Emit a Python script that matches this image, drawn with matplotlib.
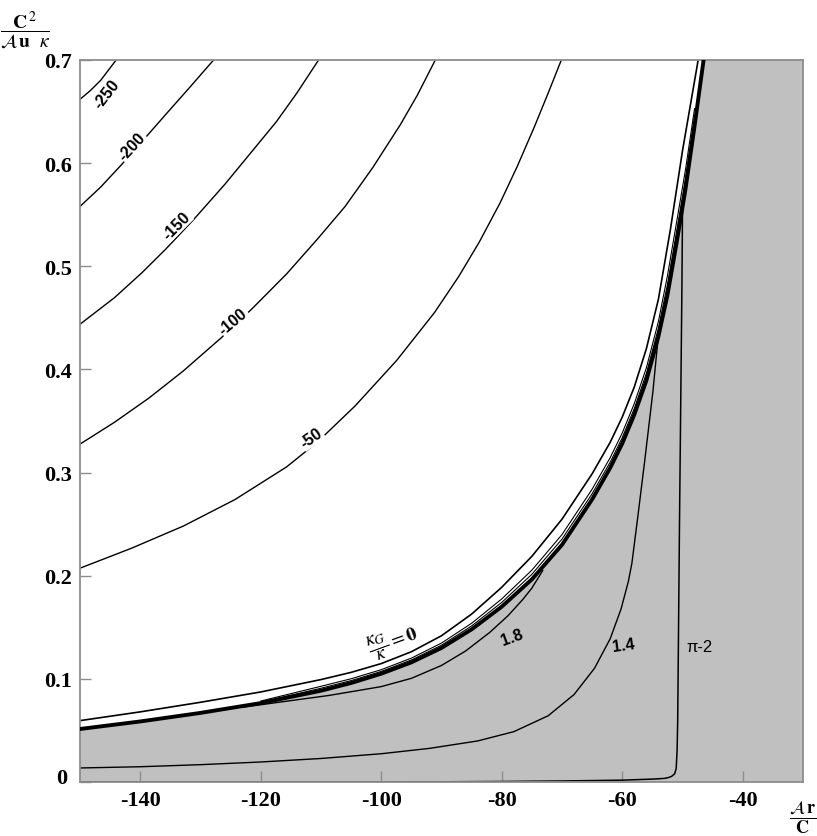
import matplotlib
matplotlib.use("Agg")
import matplotlib.pyplot as plt
from matplotlib.transforms import ScaledTranslation

plt.rcParams["axes.unicode_minus"] = False
plt.rcParams["mathtext.fontset"] = "stix"

XMIN, XMAX = -150, -30
YMIN, YMAX = 0.0, 0.7
GRAY = "#c0c0c0"
AXIS_GRAY = "#8c8c8c"

x_ticks = [-140, -120, -100, -80, -60, -40]
x_tick_labels = ["-140", "-120", "-100", "-80", "-60", "-40"]
y_ticks = [0, 0.1, 0.2, 0.3, 0.4, 0.5, 0.6, 0.7]
y_tick_labels = ["0", "0.1", "0.2", "0.3", "0.4", "0.5", "0.6", "0.7"]

# labelled contours in the white region
c250_x = [-150, -148.29, -146.57, -144.0]
c250_y = [0.6619, 0.6703, 0.6803, 0.7]
c200_x = [-150, -146.57, -143.14, -139.43, -135.71, -131.71, -127.83]
c200_y = [0.558, 0.5768, 0.5983, 0.6228, 0.6476, 0.6740, 0.7]
c150_x = [-150, -144.29, -139.71, -135.71, -131.14, -126.0, -121.43, -117.43, -114.0, -110.4]
c150_y = [0.4438, 0.4695, 0.4938, 0.517, 0.5453, 0.5792, 0.6116, 0.640, 0.668, 0.7]
c100_x = [-150, -144.29, -138.57, -132.86, -126.57, -121.43, -115.71, -110.57, -106.0,
          -101.43, -96.86, -94.0, -91.03]
c100_y = [0.3276, 0.3487, 0.3722, 0.3985, 0.4306, 0.4589, 0.4926, 0.5265, 0.558,
          0.5955, 0.637, 0.666, 0.7]
c50_x = [-150, -141.43, -132.86, -124.29, -115.71, -110.57, -104.29, -97.43, -91.14,
         -87.14, -83.71, -80.29, -77.43, -74.57, -72.29, -70.11]
c50_y = [0.2073, 0.2267, 0.2481, 0.2738, 0.3055, 0.3297, 0.3649, 0.4088, 0.4553,
         0.4901, 0.5237, 0.5613, 0.5968, 0.6354, 0.668, 0.7]

contour_labels = ["-250", "-200", "-150", "-100", "-50"]
contour_label_x = [-145.5, -141.4, -134.0, -124.6, -111.6]
contour_label_y = [0.6676, 0.6168, 0.540, 0.4472, 0.3336]
contour_label_rot = [52, 47, 45, 40, 35]

# outer thin line (kappa_G / kappa = 0)
outer_x = [-150, -140, -130, -120, -110, -105, -100, -95, -90, -85, -80, -75, -70,
           -65, -62, -60, -58, -56, -54, -52, -50, -47.4]
outer_y = [0.0595, 0.068, 0.0773, 0.0873, 0.0993, 0.1063, 0.1148, 0.1263, 0.1418,
           0.1628, 0.1888, 0.2188, 0.2548, 0.2988, 0.3294, 0.3538, 0.383, 0.420,
           0.468, 0.536, 0.612, 0.7]

# thick boundary of the grey region
thick_x = [-150, -140, -130, -120, -110, -105, -100, -95, -90, -85, -80, -75, -70,
           -65, -62, -60, -58, -56, -54, -52.5, -51, -49.5, -48, -46.5]
thick_y = [0.0514, 0.0587, 0.067, 0.0765, 0.0885, 0.096, 0.105, 0.116, 0.130,
           0.148, 0.170, 0.1965, 0.230, 0.274, 0.3046, 0.3282, 0.3562, 0.3892,
           0.432, 0.472, 0.522, 0.575, 0.636, 0.7]

# thin lines hugging the boundary
bundle_x = [-120, -110, -105, -100, -95, -90, -85, -80, -75, -70, -65, -62, -60,
            -58, -56, -54, -52.5, -51, -49.5, -48]
bundle1_y = [0.0775, 0.0909, 0.0983, 0.1072, 0.1183, 0.1326, 0.1513, 0.1741, 0.2014,
             0.2355, 0.2795, 0.3101, 0.3338, 0.3621, 0.396, 0.4399, 0.4823, 0.533,
             0.5853, 0.6452]
bundle2_y = [0.0785, 0.0928, 0.1001, 0.1089, 0.1201, 0.1347, 0.1539, 0.1775, 0.2054,
             0.2399, 0.2839, 0.3145, 0.3384, 0.3669, 0.4015, 0.4464, 0.4908, 0.542,
             0.5938, 0.6528]

# curves inside the grey region
c18_x = [-123, -118, -113, -108.8, -103.5, -100, -95, -90, -86, -82, -79, -76.5, -75, -73.2]
c18_y = [0.0725, 0.0765, 0.0805, 0.0838, 0.089, 0.0925, 0.1005, 0.113, 0.127, 0.145,
         0.161, 0.177, 0.188, 0.205]
c14_x = [-150, -140, -130, -120, -110, -100, -92, -84, -78, -72.3, -68, -64.6, -62,
         -60.2, -59, -58.4, -57.4, -56.3, -54.9, -53.9]
c14_y = [0.0136, 0.0148, 0.0168, 0.0194, 0.0228, 0.0274, 0.0326, 0.0398, 0.0488,
         0.0642, 0.0848, 0.1103, 0.1389, 0.1677, 0.1941, 0.2121, 0.258, 0.310, 0.379, 0.4397]
cpi_x = [-150, -120, -100, -90, -80, -70, -60, -55, -53, -52.4, -51.8, -51.3, -51.05,
         -50.9, -50.8, -50.5, -50.1, -50.0]
cpi_y = [0.0, 0.0, 0.0, 0.0002, 0.0005, 0.001, 0.0018, 0.0028, 0.0035, 0.0042, 0.0055,
         0.008, 0.013, 0.03, 0.058, 0.25, 0.478, 0.555]

fig = plt.figure(figsize=(8.17, 8.37), dpi=100)
ax = fig.add_axes([80 / 817, 54 / 837, 723 / 817, 722 / 837])

ax.fill(thick_x + [XMAX, XMAX, XMIN], thick_y + [YMAX, YMIN, YMIN],
        color=GRAY, lw=0, zorder=0)

for cx, cy in [(c250_x, c250_y), (c200_x, c200_y), (c150_x, c150_y),
               (c100_x, c100_y), (c50_x, c50_y)]:
    ax.plot(cx, cy, color="black", lw=1.0, zorder=2)

ax.plot(outer_x, outer_y, color="black", lw=1.2, zorder=2)
ax.plot(bundle_x, bundle1_y, color="black", lw=0.8, zorder=2)
ax.plot(bundle_x, bundle2_y, color="black", lw=0.8, zorder=2)
ax.plot(thick_x, thick_y, color="black", lw=2.8, zorder=3)
ax.plot(c18_x, c18_y, color="black", lw=1.0, zorder=2)
ax.plot(c14_x, c14_y, color="black", lw=1.0, zorder=2)
ax.plot(cpi_x, cpi_y, color="black", lw=1.1, zorder=2)

for i, lab in enumerate(contour_labels):
    box = None if i == 0 else dict(boxstyle="square,pad=0.05", fc="white", ec="none")
    ax.text(contour_label_x[i], contour_label_y[i], lab, rotation=contour_label_rot[i],
            rotation_mode="anchor", ha="center", va="center", fontsize=11.5,
            fontweight="bold", family="Liberation Sans", bbox=box, zorder=4)

ax.text(-78.35, 0.1403, "1.8", rotation=20, rotation_mode="anchor", ha="center",
        va="center", fontsize=11.5, fontweight="bold", family="Liberation Sans", zorder=4)
ax.text(-59.8, 0.1329, "1.4", rotation=8, rotation_mode="anchor", ha="center",
        va="center", fontsize=11.5, fontweight="bold", family="Liberation Sans", zorder=4)
ax.text(-47.1, 0.1313, "π-2", ha="center", va="center", fontsize=12,
        family=["Liberation Sans", "DejaVu Sans"], zorder=4)
ax.text(-98.0, 0.1375, r"$\dfrac{\kappa_{G}}{\kappa}=\mathbf{0}$", rotation=20,
        rotation_mode="anchor", ha="center", va="center", fontsize=14, zorder=4)

ax.set_xlim(XMIN, XMAX)
ax.set_ylim(YMIN, YMAX)
ax.set_xticks(x_ticks)
ax.set_xticklabels(x_tick_labels, family="Liberation Serif", fontweight="bold", fontsize=16)
ax.set_yticks(y_ticks)
ax.set_yticklabels(y_tick_labels, family="Liberation Serif", fontweight="bold", fontsize=16)
ax.tick_params(direction="in", length=8, width=1.0, color=AXIS_GRAY, pad=6)
for sp in ax.spines.values():
    sp.set_color(AXIS_GRAY)
    sp.set_linewidth(1.3)

# the "0" label sits a little above the bottom spine in the original
zero_lab = ax.get_yticklabels()[0]
zero_lab.set_transform(zero_lab.get_transform()
                       + ScaledTranslation(-0.04, 0.06, fig.dpi_scale_trans))

fig.text(25 / 817, 1 - 30 / 837, r"$\dfrac{\mathbf{C}^{\,2}}{\mathcal{A}\,\mathbf{u}\ \ \kappa}$",
         ha="center", va="center", fontsize=14)
fig.text(803 / 817, 1 - 818 / 837, r"$\dfrac{\mathcal{A}\,\mathbf{r}}{\mathbf{C}}$",
         ha="center", va="center", fontsize=13)

fig.savefig("out.png", dpi=100)
